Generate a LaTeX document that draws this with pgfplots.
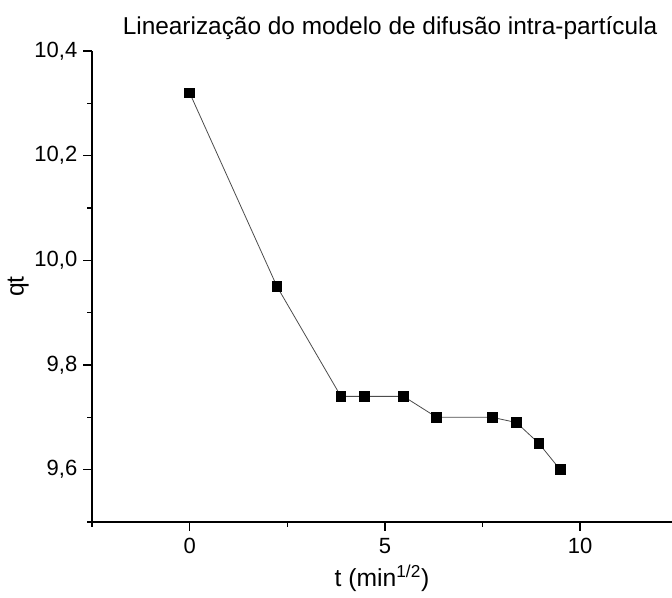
\documentclass[border=0pt]{standalone}
\usepackage{fontspec}
\setmainfont{Liberation Sans}
\usepackage{pgfplots}
\pgfplotsset{compat=1.18}
\begin{document}
\begin{tikzpicture}
\begin{axis}[
  name=ax,
  scale only axis,
  width=435pt, height=353.25pt,
  xmin=-2.5, xmax=12.35, ymin=9.5, ymax=10.4,
  axis x line*=bottom, axis y line*=left,
  axis line style={line width=1.2pt},
  tick align=outside,
  major tick length=6.5pt, minor tick length=3.5pt,
  every tick/.style={black, line width=1.1pt},
  xtick={0,5,10}, minor xtick={-2.5,2.5,7.5,12.5},
  ytick={9.6,9.8,10.0,10.2,10.4}, minor ytick={9.5,9.7,9.9,10.1,10.3},
  /pgf/number format/assume math mode=true,
  /pgf/number format/use comma,
  ticklabel style={font=\fontsize{16.5}{19}\selectfont},
  xticklabel style={yshift=-2pt},
  yticklabel style={xshift=-1pt, /pgf/number format/.cd, fixed, fixed zerofill, precision=1},
  xlabel={t (min\textsuperscript{1/2})},
  ylabel={qt},
  xlabel style={font=\fontsize{18.5}{22}\selectfont, yshift=-2pt},
  ylabel style={font=\fontsize{18.5}{22}\selectfont, yshift=-2.5pt},
  title={Linearização do modelo de difusão intra-partícula},
  title style={font=\fontsize{18.3}{22}\selectfont, yshift=-1pt, xshift=6pt},
  clip=false,
]
\addplot[black!70, line width=0.6pt, mark=square*, mark size=3.6pt,
  mark options={solid, fill=black, draw=black}]
  coordinates {
  (0,10.32) (2.236,9.95) (3.873,9.74) (4.472,9.74) (5.477,9.74)
  (6.325,9.70) (7.746,9.70) (8.367,9.69) (8.944,9.65) (9.487,9.60)
  };
\end{axis}
\pgfresetboundingbox
\path ([xshift=-69pt,yshift=-57pt]ax.south west) rectangle ([yshift=38.25pt]ax.north east);
\end{tikzpicture}
\end{document}
